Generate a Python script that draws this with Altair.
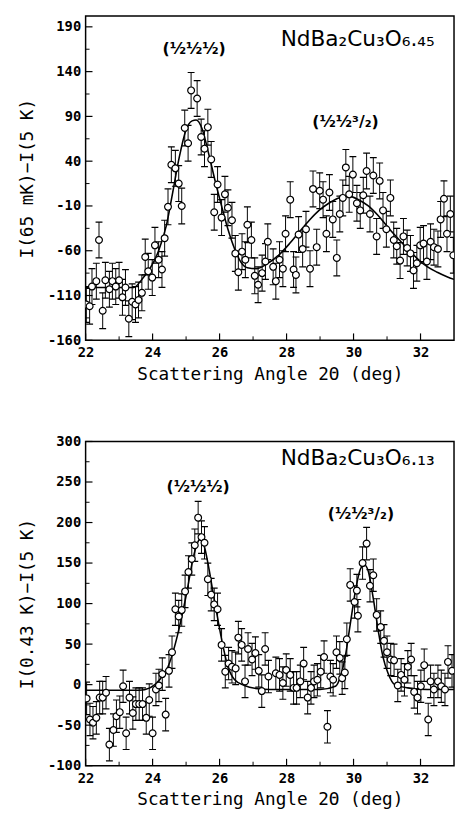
import altair as alt
import pandas as pd

# ---------------- data ----------------
TOP_X = [22.02, 22.12, 22.19, 22.32, 22.40, 22.51, 22.59, 22.71, 22.80, 22.90, 23.00, 23.10, 23.19, 23.29,
         23.39, 23.49, 23.58, 23.68, 23.78, 23.87, 23.99, 24.07, 24.18, 24.28, 24.36, 24.46, 24.56, 24.68,
         24.78, 24.87, 24.96, 25.06, 25.15, 25.33, 25.45, 25.55, 25.65, 25.75, 25.84, 25.94, 26.06, 26.16,
         26.25, 26.37, 26.47, 26.56, 26.67, 26.77, 26.83, 26.95, 27.05, 27.15, 27.27, 27.37, 27.44,
         27.60, 27.68, 27.79, 27.89, 27.97, 28.11, 28.21, 28.28, 28.36, 28.48, 28.58, 28.70, 28.79, 28.90,
         28.99, 29.09, 29.19, 29.28, 29.38, 29.50, 29.59, 29.68, 29.77, 29.87, 29.98, 30.10, 30.20, 30.29,
         30.39, 30.49, 30.59, 30.69, 30.78, 30.88, 30.98, 31.10, 31.20, 31.29, 31.39, 31.49, 31.60, 31.70,
         31.79, 31.89, 31.99, 32.09, 32.19, 32.30, 32.40, 32.52, 32.60, 32.70, 32.79, 32.89, 32.98]
TOP_Y = [-120, -122, -100, -94, -48, -127, -93, -103, -94, -100, -93, -112, -101, -136,
         -117, -120, -115, -107, -67, -83, -90, -54, -70, -81, -46, -11, 36, 32,
         15, -10, 77, 60, 119, 110, 67, 54, 78, 42, -17, 14, -23, 3,
         -12, -26, -63, -84, -61, -70, -31, -48, -88, -98, -85, -72, -50,
         -78, -94, -70, -80, -41, -3, -81, -87, -42, -58, -36, -80, 9, -56,
         7, -3, -41, 5, -25, -68, -19, -1, 33, 3, 25, -7, -15, 2,
         29, -19, 24, -44, 18, -15, -36, -1, -48, -55, -71, -44, -57, -63,
         -82, -74, -54, -52, -72, -50, -56, -58, -25, -2, -41, -19, -65]
TOP_ERR = 20
TOP_FIT_X = [22.0, 23.44, 23.68, 23.92, 24.17, 24.41, 24.60, 24.80, 24.99, 25.18, 25.30, 25.48, 25.67,
             25.86, 26.06, 26.25, 26.45, 26.64, 26.83, 27.1, 27.4, 27.79, 28.09, 28.38, 28.68, 28.97,
             29.26, 29.56, 29.85, 30.15, 30.44, 30.74, 31.03, 31.32, 31.62, 31.91, 32.21, 32.5, 32.79, 33.0]
TOP_FIT_Y = [-101, -101, -92, -80, -61, -32, 5, 45, 74, 85, 86, 76, 49,
             19, -10, -36, -58, -73, -79, -80, -75, -64, -52, -39, -26, -15,
             -7, -1, 1, -3, -10, -21, -34, -46, -58, -69, -78, -84, -89, -92]

BOT_X = [22.03, 22.13, 22.22, 22.32, 22.42, 22.51, 22.61, 22.71, 22.83, 22.92, 23.02, 23.12, 23.21, 23.31,
         23.41, 23.50, 23.60, 23.70, 23.81, 23.90, 24.00, 24.10, 24.19, 24.29, 24.39, 24.49, 24.58, 24.68,
         24.78, 24.87, 24.97, 25.07, 25.17, 25.26, 25.36, 25.46, 25.55, 25.65, 25.75, 25.84, 25.94, 26.06,
         26.17, 26.27, 26.37, 26.48, 26.56, 26.66, 26.76, 26.85, 26.97, 27.07, 27.17, 27.26, 27.36, 27.46,
         27.68, 27.79, 27.89, 27.99, 28.11, 28.21, 28.30, 28.41, 28.51, 28.63, 28.73, 28.82, 28.92, 29.02,
         29.12, 29.22, 29.31, 29.39, 29.49, 29.59, 29.66, 29.74, 29.80, 29.90, 30.03, 30.10, 30.13, 30.27,
         30.39, 30.49, 30.59, 30.69, 30.81, 30.91, 31.00, 31.11, 31.21, 31.32, 31.42, 31.52, 31.62, 31.72,
         31.81, 31.91, 32.01, 32.11, 32.23, 32.30, 32.40, 32.52, 32.62, 32.73, 32.82, 32.94]
BOT_Y = [-17, -43, -47, -41, -16, -16, -10, -74, -56, -39, -34, -2, -60, -16,
         -35, -24, -24, -24, -41, -19, -60, -6, -1, 13, -37, 17, 40, 93,
         84, 92, 115, 139, 155, 172, 206, 182, 175, 130, 111, 99, 93, 49,
         16, 26, 22, 20, 58, 49, 4, 44, 31, 39, 17, -8, 44, 10,
         14, 12, 2, 18, 12, -4, -4, 4, 26, -16, -4, 4, 6, 16,
         34, -52, 10, 6, 40, 33, 8, 15, 56, 123, 102, 116, 85, 150,
         174, 122, 135, 86, 71, 54, 40, 31, 30, -1, 12, 6, 22, 31,
         -9, -16, -2, 24, -43, 4, -6, 4, -2, -6, 28, 17]
BOT_ERR = 20
BOT_FIT_X = [22.0, 23.6, 23.92, 24.21, 24.46, 24.65, 24.84, 25.04, 25.18, 25.33, 25.43, 25.52, 25.67,
             25.82, 25.96, 26.11, 26.25, 26.45, 26.74, 27.13, 27.5, 29.0, 29.46, 29.61, 29.75, 29.90,
             30.05, 30.20, 30.32, 30.44, 30.59, 30.74, 30.88, 31.03, 31.23, 31.62, 32.2, 33.0]
BOT_FIT_Y = [-7, -7, -4, 6, 22, 46, 78, 118, 150, 174, 180, 174, 146,
             110, 78, 46, 22, 6, -1, -5, -6, -6, -2, 10, 34, 74,
             114, 142, 148, 140, 106, 66, 34, 14, 0, -4, -6, -6]

X_TICKS = [22, 24, 26, 28, 30, 32]
X_MINOR = [23, 25, 27, 29, 31]
TOP_Y_TICKS = [-160, -110, -60, -10, 40, 90, 140, 190]
TOP_Y_MINOR = [-135, -85, -35, 15, 65, 115, 165]
BOT_Y_TICKS = [-100, -50, 0, 50, 100, 150, 200, 250, 300]
BOT_Y_MINOR = [-75, -25, 25, 75, 125, 175, 225, 275]

W, H = 375, 330
MONO = "DejaVu Sans Mono"
SANS = "DejaVu Sans"


def panel(xs, ys, err, fx, fy, ydom, yticks, yminor, ytitle, formula, peaks):
    pts = pd.DataFrame({"x": xs, "y": ys})
    pts["lo"] = pts["y"] - err
    pts["hi"] = pts["y"] + err
    fit = pd.DataFrame({"x": fx, "y": fy})

    xs_ = alt.Scale(domain=[22, 33], nice=False, zero=False)
    ys_ = alt.Scale(domain=ydom, nice=False, zero=False)
    xax = alt.Axis(values=X_TICKS, title="Scattering Angle 2\u0398 (deg)", ticks=False, domain=False,
                   grid=False, labelPadding=6, titlePadding=6, labelFlush=False,
                   labelFont=MONO, labelFontSize=14, labelFontWeight="bold", labelColor="black",
                   titleFont=MONO, titleFontSize=18, titleFontWeight="normal", titleColor="black")
    yax = alt.Axis(values=yticks, title=ytitle, ticks=False, domain=False, grid=False,
                   labelPadding=5, titlePadding=11, labelExpr="datum.value + ''",
                   labelFont=MONO, labelFontSize=14, labelFontWeight="bold", labelColor="black",
                   titleFont=MONO, titleFontSize=18, titleFontWeight="normal", titleColor="black")

    def X(f):
        return alt.X(f, type="quantitative", scale=xs_, axis=xax)

    def Y(f):
        return alt.Y(f, type="quantitative", scale=ys_, axis=yax)

    base = alt.Chart(pts)
    bars = base.mark_rule(color="black", strokeWidth=1, clip=True).encode(x=X("x"), y=Y("lo"), y2="hi")
    cap_hi = base.mark_tick(orient="horizontal", size=7, thickness=1.2, color="black", opacity=1,
                            clip=True).encode(x=X("x"), y=Y("hi"))
    cap_lo = base.mark_tick(orient="horizontal", size=7, thickness=1.2, color="black", opacity=1,
                            clip=True).encode(x=X("x"), y=Y("lo"))
    line = alt.Chart(fit).mark_line(color="black", strokeWidth=1.6, interpolate="monotone",
                                    clip=True).encode(x=X("x"), y=Y("y"))
    circ = base.mark_point(shape="circle", filled=True, fill="white", stroke="black", strokeWidth=1.2,
                           size=48, opacity=1, clip=True).encode(x=X("x"), y=Y("y"))

    ytk = alt.Chart(pd.DataFrame({"v": yticks})).mark_rule(color="black", strokeWidth=1.2).encode(
        y=Y("v"), x=alt.value(0), x2=alt.value(7))
    ytm = alt.Chart(pd.DataFrame({"v": yminor})).mark_rule(color="black", strokeWidth=1).encode(
        y=Y("v"), x=alt.value(0), x2=alt.value(4))
    xtk = alt.Chart(pd.DataFrame({"v": X_TICKS})).mark_rule(color="black", strokeWidth=1.2).encode(
        x=X("v"), y=alt.value(H), y2=alt.value(H - 7))
    xtm = alt.Chart(pd.DataFrame({"v": X_MINOR})).mark_rule(color="black", strokeWidth=1).encode(
        x=X("v"), y=alt.value(H), y2=alt.value(H - 4))

    one = pd.DataFrame({"k": [0]})
    texts = []
    fx_, fy_, ftxt = formula
    texts.append(alt.Chart(one).mark_text(font=SANS, fontSize=22, align="right", baseline="middle",
                                          color="black", text=ftxt).encode(
        x=alt.XDatum(fx_, scale=xs_, axis=xax, type="quantitative"),
        y=alt.YDatum(fy_, scale=ys_, axis=yax, type="quantitative")))
    for px, py, t in peaks:
        texts.append(alt.Chart(one).mark_text(font=SANS, fontSize=16, fontWeight="bold", align="center",
                                              baseline="middle", color="black", text=t).encode(
            x=alt.XDatum(px, scale=xs_, axis=xax, type="quantitative"),
            y=alt.YDatum(py, scale=ys_, axis=yax, type="quantitative")))

    return alt.layer(bars, cap_hi, cap_lo, line, circ, ytk, ytm, xtk, xtm, *texts).properties(
        width=W, height=H)


top = panel(TOP_X, TOP_Y, TOP_ERR, TOP_FIT_X, TOP_FIT_Y, [-160, 202], TOP_Y_TICKS, TOP_Y_MINOR,
            "I(65 mK)\u2212I(5 K)", (32.42, 176, "NdBa\u2082Cu\u2083O\u2086.\u2084\u2085"),
            [(25.24, 165, "(\u00bd\u00bd\u00bd)"), (29.76, 84, "(\u00bd\u00bd\u00b3/\u2082)")])
bot = panel(BOT_X, BOT_Y, BOT_ERR, BOT_FIT_X, BOT_FIT_Y, [-100, 300], BOT_Y_TICKS, BOT_Y_MINOR,
            "I(0.43 K)\u2212I(5 K)", (32.42, 279, "NdBa\u2082Cu\u2083O\u2086.\u2081\u2083"),
            [(25.36, 244, "(\u00bd\u00bd\u00bd)"), (30.22, 211, "(\u00bd\u00bd\u00b3/\u2082)")])

chart = alt.vconcat(top, bot, spacing=50).properties(
    padding={"left": 10, "top": 0, "right": 0, "bottom": 0},
    background="white",
).configure_view(stroke="black", strokeWidth=1.5)

chart.save("out.html", embed_options={"renderer": "svg", "actions": False})
